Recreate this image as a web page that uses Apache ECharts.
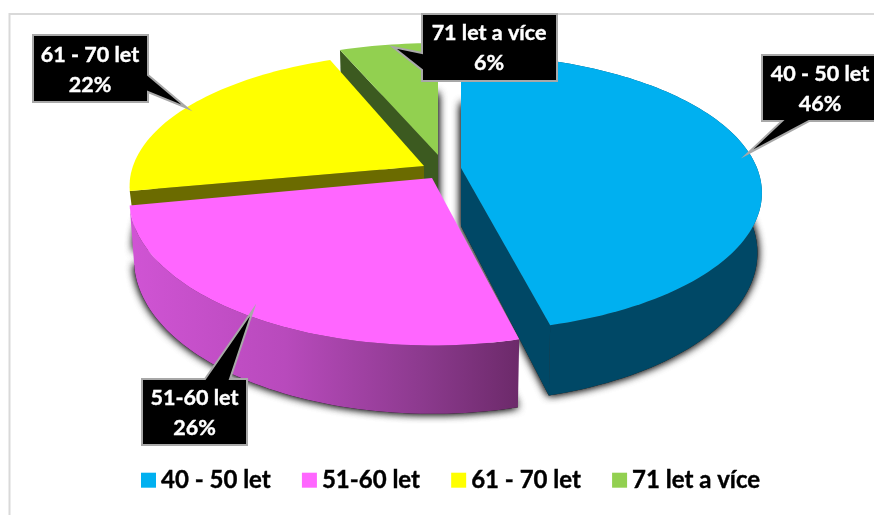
<!DOCTYPE html>
<html>
<head>
<meta charset="utf-8">
<style>html,body{margin:0;padding:0;background:#fff}#c{width:874px;height:515px}</style>
<script src="https://cdn.jsdelivr.net/npm/echarts@6/dist/echarts.min.js"></script>
</head>
<body>
<div id="c"></div>
<script>
// data
const categories = ['40 - 50 let', '51-60 let', '61 - 70 let', '71 let a více'];
const values = [46, 26, 22, 6];
// styles
const topColors = ['#00b0f0', '#ff66ff', '#ffff00', '#92d050'];
const wallColors = ['#004866', '#cc52d0', '#6b6b00', '#3c5a20'];
const apex = [[461, 168], [432, 178], [424, 166], [438, 155]];
const radiusX = [296, 299, 291, 304];
const radiusY = [134, 142, 130, 129];
const tilt = [0.18, 0.152, 0.152, 0.152];
const drawOrder = [3, 2, 0, 1];
const cutWall = ['end', null, 'start', 'start'];
const hasOuterWall = [true, true, false, false];
// geometry of the tilted disc
const DEPTH = 58, SHRINK = 0.985;
const total = values.reduce((a, b) => a + b, 0);
const startDeg = [];
values.reduce((acc, v, i) => { startDeg[i] = acc; return acc + v / total * 360; }, 0);

function pt(i, deg, low) {
  const c = apex[i], t = deg * Math.PI / 180, u = Math.sin(t), v = -Math.cos(t), w = 1 / (1 - tilt[i] * v);
  return [c[0] + radiusX[i] * u * w * (low ? SHRINK : 1), c[1] + radiusY[i] * v * w + (low ? DEPTH * w : 0)];
}
function arc(i, a, b, low) {
  const out = [], n = Math.max(2, Math.ceil((b - a) / 1.5));
  for (let j = 0; j <= n; j++) out.push(pt(i, a + (b - a) * j / n, low));
  return out;
}
function sliceItem(i) {
  return function () {
    const c = apex[i], a = startDeg[i], b = a + values[i] / total * 360;
    const cLow = [c[0], c[1] + DEPTH];
    const children = [];
    const topArc = arc(i, a, b, false), lowArc = arc(i, a, b, true);
    const floor = [cLow].concat(lowArc);
    [0, 1].forEach(() => children.push({
      type: 'polygon', shape: { points: floor },
      style: { fill: '#333', shadowBlur: 9, shadowColor: 'rgba(0,0,0,0.85)' }
    }));
    const wallFill = i === 1 ? {
      type: 'linear', x: 0, y: 0, x2: 1, y2: 0,
      colorStops: [{ offset: 0, color: '#d054d4' }, { offset: 0.4, color: '#b84abc' }, { offset: 0.75, color: '#8c3a8e' }, { offset: 1, color: '#6c2a6a' }]
    } : wallColors[i];
    if (hasOuterWall[i]) children.push({
      type: 'polygon', shape: { points: topArc.concat(lowArc.slice().reverse()) },
      style: { fill: wallFill }
    });
    if (cutWall[i]) {
      const d = cutWall[i] === 'end' ? b : a;
      const edge = pt(i, d, false), edgeLow = pt(i, d, true);
      // the yellow wall only shows as a thin band above the pink slice
      const h = i === 2 ? 16 : null;
      const lowEdge = h ? [edge[0] + 2, edge[1] + h] : edgeLow;
      const lowC = h ? [c[0], c[1] + h] : cLow;
      children.push({
        type: 'polygon', shape: { points: [c, edge, lowEdge, lowC] },
        style: { fill: wallColors[i] }
      });
    }
    children.push({
      type: 'polygon', shape: { points: [c].concat(topArc) },
      style: { fill: topColors[i] }
    });
    return { type: 'group', children };
  };
}
// callout layout: box x0,y0,x1,y1, label centre, pointer
const callouts = [
  { box: [762, 55, 876, 121], text: [820, 89], ptr: [[809, 121], [747, 154], [782, 121]], edge: 'bottom' },
  { box: [142, 379, 247, 445], text: [194.5, 413], ptr: [[205, 379], [253, 310], [230, 379]], edge: 'top' },
  { box: [33, 35, 148, 102], text: [90, 70], ptr: [[148, 75], [187, 108], [148, 92]], edge: 'right' },
  { box: [422, 14, 557, 81], text: [489, 48], ptr: [[422, 70], [393, 47], [422, 53]], edge: 'left' }
];
function calloutItem(params, api) {
  const i = params.dataIndex, co = callouts[i], [x0, y0, x1, y1] = co.box;
  let pts;
  if (co.edge === 'bottom') pts = [[x0, y0], [x1, y0], [x1, y1]].concat(co.ptr, [[x0, y1]]);
  if (co.edge === 'top') pts = [[x0, y0]].concat(co.ptr, [[x1, y0], [x1, y1], [x0, y1]]);
  if (co.edge === 'right') pts = [[x0, y0], [x1, y0]].concat(co.ptr, [[x1, y1], [x0, y1]]);
  if (co.edge === 'left') pts = [[x0, y0], [x1, y0], [x1, y1], [x0, y1]].concat(co.ptr);
  return {
    type: 'group',
    children: [
      { type: 'polygon', shape: { points: pts }, style: { fill: '#000', stroke: '#a8a8a8', lineWidth: 2 } },
      { type: 'text', style: {
        text: categories[i] + '\n' + api.value(0) + '%',
        x: co.text[0], y: co.text[1], align: 'center', verticalAlign: 'middle',
        fill: '#fff', stroke: '#fff', lineWidth: 0.4, font: 'bold 21.5px Lato', lineHeight: 30
      } }
    ]
  };
}
const series = drawOrder.map((i, z) => ({
  type: 'custom', name: categories[i], coordinateSystem: 'none', z: z + 2,
  itemStyle: { color: topColors[i] }, data: [[values[i]]], renderItem: sliceItem(i), silent: true
}));
series.push({
  type: 'custom', name: 'popisky', coordinateSystem: 'none', z: 10,
  data: values.map(v => [v]), renderItem: calloutItem, silent: true
});
const chart = echarts.init(document.getElementById('c'), null, { renderer: 'canvas' });
chart.setOption({
  animation: false,
  backgroundColor: '#fff',
  legend: {
    data: categories, left: 136, top: 463, icon: 'rect', itemWidth: 15, itemHeight: 15, itemGap: 31,
    selectedMode: false,
    textStyle: { color: '#000', fontFamily: 'Lato', fontWeight: 'bold', fontSize: 24, textBorderColor: '#000', textBorderWidth: 0.4 }
  },
  graphic: [{
    type: 'polyline', silent: true, z: 0,
    shape: { points: [[9.5, 515], [9.5, 14], [874, 14]] },
    style: { stroke: '#d9d9d9', lineWidth: 2, fill: null }
  }],
  series
});
</script>
</body>
</html>
